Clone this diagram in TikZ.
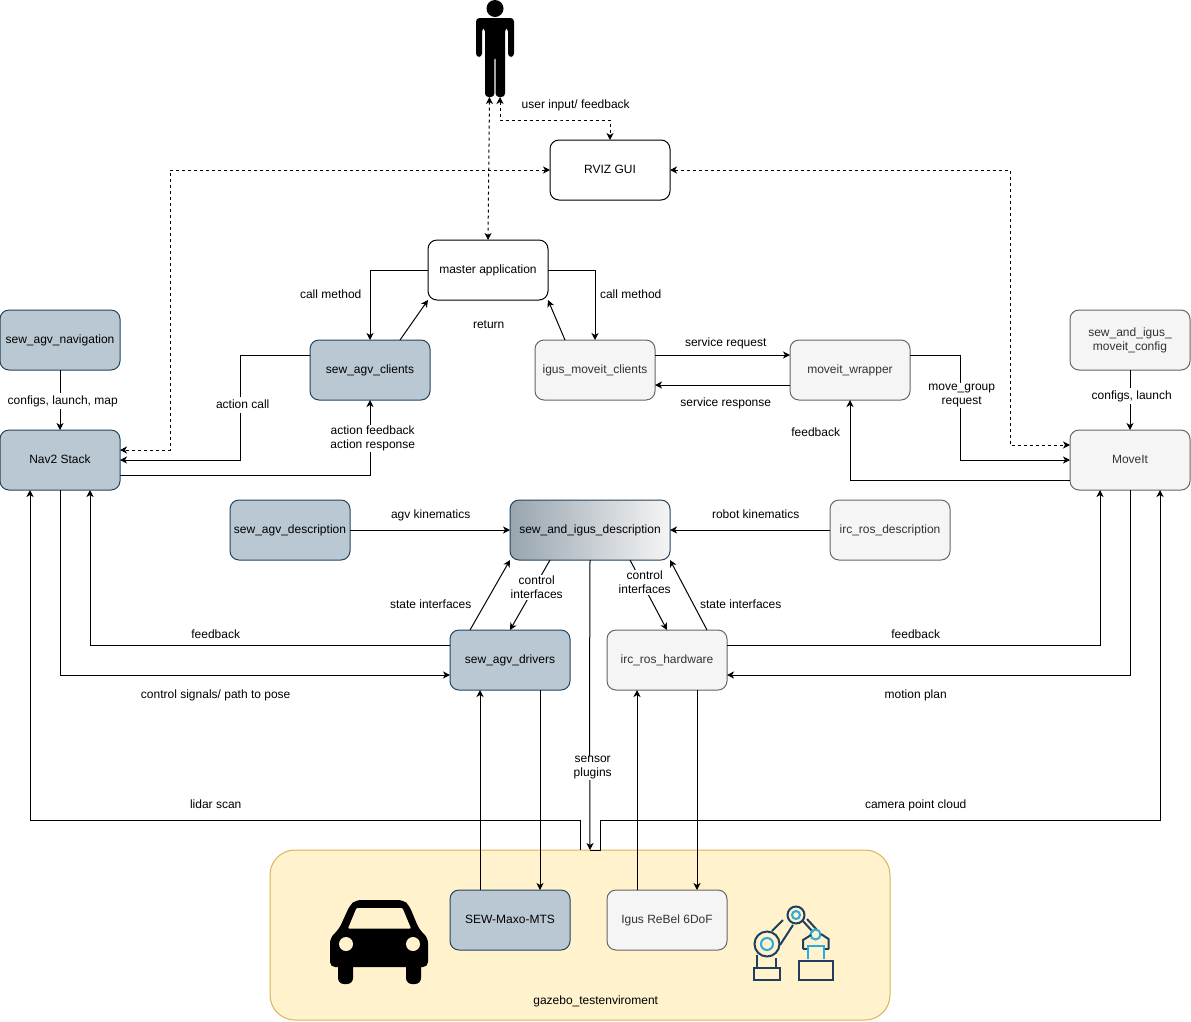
\documentclass[tikz,border=0pt]{standalone}
\usepackage{fontspec}
\setmainfont{Liberation Sans}
\usetikzlibrary{arrows.meta}
\definecolor{bluefill}{HTML}{BAC8D3}
\definecolor{bluedraw}{HTML}{23445D}
\definecolor{greyfill}{HTML}{F5F5F5}
\definecolor{greydraw}{HTML}{666666}
\definecolor{greytext}{HTML}{333333}
\definecolor{gazebofill}{HTML}{FFF2CC}
\definecolor{gazebodraw}{HTML}{D6B656}
\definecolor{gradleft}{HTML}{98A5AF}
\definecolor{robotdark}{HTML}{1F3F5C}
\definecolor{robotcyan}{HTML}{29ABE2}
\tikzset{
  box/.style={rectangle,rounded corners=9pt,minimum width=120pt,minimum height=60pt,
    inner sep=0pt,outer sep=0pt,draw,line width=1pt,font=\fontsize{12}{14}\selectfont,align=center},
  whitebox/.style={box,fill=white},
  bluebox/.style={box,fill=bluefill,draw=bluedraw},
  greybox/.style={box,fill=greyfill,draw=greydraw,text=greytext},
  oneline/.style={text height=11pt,text depth=3.5pt},
  lbl/.style={inner sep=1pt,font=\fontsize{12}{14}\selectfont,align=center},
  lblw/.style={lbl,fill=white},
  lblone/.style={lbl,text height=13pt,text depth=3.5pt},
  conn/.style={line width=1pt,-{Stealth[length=7pt,width=7pt,inset=2pt]}},
  dconn/.style={line width=1pt,dash pattern=on 3pt off 3pt,
    {Stealth[length=7pt,width=7pt,inset=2pt]}-{Stealth[length=7pt,width=7pt,inset=2pt]}},
  robotline/.style={draw=robotdark,line width=2pt},
  robotcy/.style={draw=robotcyan,line width=2pt},
}
\begin{document}
\begin{tikzpicture}[x=1pt,y=-1pt]
  \useasboundingbox (0,0) rectangle (1191,1021);
  % environment
  \node[box,fill=gazebofill,draw=gazebodraw,rounded corners=25pt,minimum width=620pt,minimum height=170pt] (gazebo) at (580,935) {};
  \node[lblone] (gazebolbl) at (595.7,1000) {gazebo\_testenviroment};
  % person
  \fill (495,8.5) circle (8.5);
  \fill[rounded corners=3.5pt] (476,57) -- (476,18) -- (514,18) -- (514,57) -- (508,57) -- (508,28) -- (505,28)
    -- (505,97) -- (495.6,97) -- (495.6,56) -- (494.4,56) -- (494.4,97) -- (485,97) -- (485,28) -- (482,28) -- (482,57) -- cycle;
  \coordinate (personl) at (489.5,97);
  \coordinate (personr) at (500,97);
  % boxes
  \node[whitebox,oneline] (rviz) at (610,170) {RVIZ GUI};
  \node[whitebox,oneline] (master) at (488,270) {master application};
  \node[bluebox,oneline] (navigation) at (60,340) {sew\_agv\_navigation};
  \node[bluebox,oneline] (clients) at (370,370) {sew\_agv\_clients};
  \node[greybox,oneline] (igusclients) at (595,370) {igus\_moveit\_clients};
  \node[greybox,oneline] (wrapper) at (850,370) {moveit\_wrapper};
  \node[greybox] (config) at (1130,340) {sew\_and\_igus\_\\moveit\_config};
  \node[bluebox,oneline] (nav) at (60,460) {Nav2 Stack};
  \node[greybox,oneline] (moveit) at (1130,460) {MoveIt};
  \node[bluebox,oneline] (agvdesc) at (290,530) {sew\_agv\_description};
  \node[box,oneline,minimum width=160pt,draw=bluedraw,left color=gradleft,right color=greyfill] (desc) at (590,530) {sew\_and\_igus\_description};
  \node[greybox,oneline] (ircdesc) at (890,530) {irc\_ros\_description};
  \node[bluebox,oneline] (drivers) at (510,660) {sew\_agv\_drivers};
  \node[greybox,oneline] (hardware) at (667,660) {irc\_ros\_hardware};
  \node[bluebox,oneline] (maxo) at (510,920) {SEW-Maxo-MTS};
  \node[greybox,oneline] (rebel) at (667,920) {Igus ReBel 6DoF};
  % dashed connectors
  \draw[dconn] (personl) -- (master.north);
  \draw[dconn] (personr) |- (560,120) -| (rviz.north);
  \draw[dconn] (rviz.west) -| (170,450) -- ([yshift=10pt]nav.east);
  \draw[dconn] (rviz.east) -| (1010,445) -- ([yshift=15pt]moveit.west);
  % upper connectors
  \draw[conn] (master.west) -| (clients.north);
  \draw[conn] (master.east) -| (igusclients.north);
  \draw[conn] ([xshift=30pt]clients.north) -- ([xshift=-60pt]master.south);
  \draw[conn] ([xshift=-30pt]igusclients.north) -- ([xshift=60pt]master.south);
  \draw[conn] ([yshift=15pt]clients.west) -| (240,460) -- (nav.east);
  \draw[conn] ([yshift=-15pt]nav.east) -| (clients.south);
  \draw[conn] ([yshift=15pt]igusclients.east) -- ([yshift=15pt]wrapper.west);
  \draw[conn] ([yshift=-15pt]wrapper.west) -- ([yshift=-15pt]igusclients.east);
  \draw[conn] ([yshift=15pt]wrapper.east) -| (960,460) -- (moveit.west);
  \draw[conn] ([yshift=-20pt]moveit.west) -| (wrapper.south);
  \draw[conn] (navigation.south) -- (nav.north);
  \draw[conn] (config.south) -- (moveit.north);
  % description connectors
  \draw[conn] (agvdesc.east) -- (desc.west);
  \draw[conn] (ircdesc.west) -- (desc.east);
  \draw[conn] ([xshift=-40pt]drivers.north) -- ([xshift=-80pt]desc.south);
  \draw[conn] ([xshift=-40pt]desc.south) -- (drivers.north);
  \draw[conn] ([xshift=40pt]desc.south) -- (hardware.north);
  \draw[conn] ([xshift=40pt]hardware.north) -- ([xshift=80pt]desc.south);
  % lower connectors
  \draw[conn] ([yshift=15pt]drivers.west) -| ([xshift=30pt]nav.south);
  \draw[conn] (nav.south) |- ([yshift=-15pt]drivers.west);
  \draw[conn] ([yshift=15pt]hardware.east) -| ([xshift=-30pt]moveit.south);
  \draw[conn] (moveit.south) |- ([yshift=-15pt]hardware.east);
  \draw[conn] ([xshift=-30pt]maxo.north) -- ([xshift=-30pt]drivers.south);
  \draw[conn] ([xshift=30pt]drivers.south) -- ([xshift=30pt]maxo.north);
  \draw[conn] ([xshift=-30pt]rebel.north) -- ([xshift=-30pt]hardware.south);
  \draw[conn] ([xshift=30pt]hardware.south) -- ([xshift=30pt]rebel.north);
  \draw[conn] (gazebo.north) |- (300,820) -| ([xshift=-30pt]nav.south);
  \draw[conn] ([xshift=10pt]gazebo.north) -- ([xshift=20pt]gazebo.north) |- (900,820) -| ([xshift=30pt]moveit.south);
  \draw[conn] (desc.south) -- (589.5,710) -- ([xshift=10pt]gazebo.north);
  % labels
  \begin{scope}[xshift=0.7pt]
  \node[lblone] (l1) at (575,104) {user input/ feedback};
  \node[lblone] (l2) at (330,294) {call method};
  \node[lblone] (l3) at (630,294) {call method};
  \node[lblone] (l4) at (488,324) {return};
  \node[lblone] (l5) at (725,342) {service request};
  \node[lblone] (l6) at (725,402) {service response};
  \node[lblone,fill=white,text height=11pt,yshift=-1pt] (l7) at (62,400) {configs, launch, map};
  \node[lblone,fill=white,text height=11pt,yshift=-1pt] (l8) at (1131,395) {configs, launch};
  \node[lblone,fill=white,text height=11pt,yshift=-1pt] (l9) at (242,404) {action call};
  \node[lblw] (l10) at (372,438.5) {action feedback\\action response};
  \node[lblw] (l11) at (961,395.5) {move\_group\\request};
  \node[lblone] (l12) at (815,432) {feedback};
  \node[lblone] (l13) at (430,514) {agv kinematics};
  \node[lblone] (l14) at (755,514) {robot kinematics};
  \node[lblone] (l15) at (430,604) {state interfaces};
  \node[lblone] (l16) at (740,604) {state interfaces};
  \node[lblw] (l17) at (536,587.5) {control\\interfaces};
  \node[lblw] (l18) at (644,582.5) {control\\interfaces};
  \node[lblone] (l19) at (215,634) {feedback};
  \node[lblone] (l20) at (215,694) {control signals/ path to pose};
  \node[lblone] (l21) at (915,634) {feedback};
  \node[lblone] (l22) at (915,694) {motion plan};
  \node[lblw] (l23) at (592,768) {sensor\\plugins};
  \node[lblone] (l24) at (215,804) {lidar scan};
  \node[lblone] (l25) at (915,804) {camera point cloud};
  \end{scope}
  % car
  \fill[rounded corners=5pt] (330,967) -- (330,938) -- (339,929) -- (350,905) -- (356,900) -- (403,900) -- (409,905) -- (419,929) -- (428,938) -- (428,967) -- cycle;
  \fill[rounded corners=6pt] (338,960) rectangle (353,984);
  \fill[rounded corners=6pt] (406,960) rectangle (421,984);
  \fill[gazebofill,rounded corners=1pt] (348,928.5) -- (356.5,908) -- (402.5,908) -- (411,928.5) -- cycle;
  \fill[gazebofill] (346,944) circle (7);
  \fill[gazebofill] (413,944) circle (7);
  % robot
  \draw[robotline] (753.5,967.5) rectangle (780,979.5);
  \draw[robotline] (757,955) -- (757,967);
  \draw[robotline] (776,958) -- (776,967);
  \draw[robotline] (767,944) circle (12.5);
  \draw[robotcy] (767,944) circle (6);
  \draw[robotline] (772,931) -- (783,920);
  \draw[robotline] (780,945) -- (793,925);
  \draw[robotline] (796,915) circle (8.5);
  \draw[robotcy] (796,915) circle (4);
  \draw[robotline] (802,920) -- (813,932);
  \draw[robotline] (807,919) -- (817,930);
  \draw[robotcy] (815.5,934.5) circle (5);
  \draw[robotline] (803,949) -- (803,940) -- (811,935);
  \draw[robotline] (828.5,949) -- (828.5,939) -- (821,934);
  \draw[robotline] (803,949) -- (808,949) (824,949) -- (828.5,949);
  \draw[robotcy] (808,959) -- (808,946) -- (824,946) -- (824,959);
  \draw[robotline] (799,960.5) rectangle (832.5,979.5);
\end{tikzpicture}
\end{document}
